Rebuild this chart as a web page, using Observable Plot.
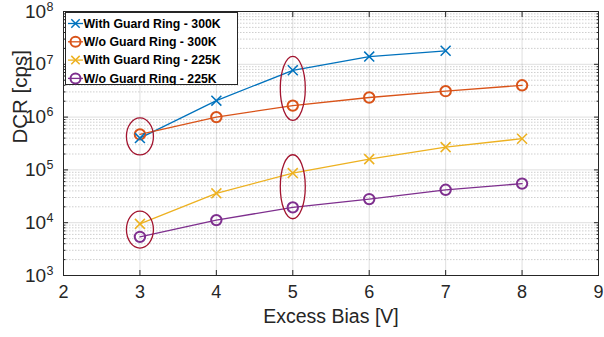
<!DOCTYPE html>
<html>
<head>
<meta charset="utf-8">
<script src="https://cdn.jsdelivr.net/npm/d3@7"></script>
<script src="https://cdn.jsdelivr.net/npm/@observablehq/plot@0.6"></script>
<style>
  html, body { margin: 0; padding: 0; background: #fff; }
  #chart { position: relative; width: 604px; height: 337px; font-family: "Liberation Sans", Arial, sans-serif; }
  #legend { position: absolute; left: 65px; top: 12px; }
</style>
</head>
<body>
<div id="chart"></div>
<script>
// ---- data ----
const seriesNames = ["With Guard Ring - 300K", "W/o Guard Ring - 300K", "With Guard Ring - 225K", "W/o Guard Ring - 225K"];
const seriesColors = ["#0072BD", "#D95319", "#EDB120", "#7E2F8E"];
const seriesSymbols = ["times", "circle", "times", "circle"];
const biasWithGR300 = [3, 4, 5, 6, 7];
const dcrWithGR300 = [4.0e5, 2.05e6, 7.7e6, 1.4e7, 1.8e7];
const biasWoGR300 = [3, 4, 5, 6, 7, 8];
const dcrWoGR300 = [4.7e5, 1.0e6, 1.65e6, 2.35e6, 3.1e6, 4.0e6];
const biasWithGR225 = [3, 4, 5, 6, 7, 8];
const dcrWithGR225 = [9.5e3, 3.6e4, 8.7e4, 1.6e5, 2.7e5, 3.9e5];
const biasWoGR225 = [3, 4, 5, 6, 7, 8];
const dcrWoGR225 = [5.4e3, 1.12e4, 1.95e4, 2.8e4, 4.2e4, 5.5e4];

// annotation ellipses (centres in data units)
const ellipseX = [3, 3, 5, 5];
const ellipseY = [4.3e5, 7.4e3, 3.5e6, 4.8e4];
const ellipseKind = ["short", "short", "tall", "tall"];

const xTicks = [2, 3, 4, 5, 6, 7, 8, 9];
const yTicks = [1e3, 1e4, 1e5, 1e6, 1e7, 1e8];
const yTickBase = "10";
const yTickExponents = ["3", "4", "5", "6", "7", "8"];
const yMinorTicks = [];
for (let d = 3; d < 8; d++) for (let m = 2; m <= 9; m++) yMinorTicks.push(m * Math.pow(10, d));

// ---- build table ----
const xs = [biasWithGR300, biasWoGR300, biasWithGR225, biasWoGR225];
const ys = [dcrWithGR300, dcrWoGR300, dcrWithGR225, dcrWoGR225];
const rows = [];
seriesNames.forEach((name, i) => {
  xs[i].forEach((x, j) => rows.push({series: name, x, y: ys[i][j], sym: seriesSymbols[i]}));
});
const ellipses = ellipseX.map((x, i) => ({x, y: ellipseY[i], kind: ellipseKind[i]}));

function ellipseSymbol(rx, ry) {
  return {
    draw(ctx) {
      const k = 0.5523;
      ctx.moveTo(rx, 0);
      ctx.bezierCurveTo(rx, k * ry, k * rx, ry, 0, ry);
      ctx.bezierCurveTo(-k * rx, ry, -rx, k * ry, -rx, 0);
      ctx.bezierCurveTo(-rx, -k * ry, -k * rx, -ry, 0, -ry);
      ctx.bezierCurveTo(k * rx, -ry, rx, -k * ry, rx, 0);
      ctx.closePath();
    }
  };
}
const shortEllipse = ellipseSymbol(13.5, 18.5);
const tallEllipse = ellipseSymbol(12.5, 32);

const colorOf = s => seriesColors[seriesNames.indexOf(s)];

const plot = Plot.plot({
  width: 604,
  height: 337,
  marginLeft: 63,
  marginRight: 6,
  marginTop: 11,
  marginBottom: 62,
  style: {fontFamily: "'Liberation Sans', Arial, sans-serif", fontSize: "17px", color: "#262626", background: "#fff", overflow: "visible"},
  x: {domain: [2, 9]},
  y: {type: "log", domain: [1e3, 1e8]},
  marks: [
    Plot.gridY(yMinorTicks, {stroke: "#262626", strokeOpacity: 0.22, strokeDasharray: "1.5,1.5"}),
    Plot.gridY(yTicks, {stroke: "#262626", strokeOpacity: 0.15}),
    Plot.gridX(xTicks, {stroke: "#262626", strokeOpacity: 0.15}),
    Plot.axisX({ticks: xTicks, tickSize: -5, tickPadding: 15, tickFormat: d3.format("d"), label: null, fontSize: 18, stroke: "#262626", fill: "#262626"}),
    Plot.axisX({anchor: "top", ticks: xTicks, tickSize: -5, tickFormat: () => "", label: null, stroke: "#262626"}),
    Plot.axisY({ticks: yTicks, tickSize: -5, tickPadding: 15, tickFormat: (d) => yTickBase + "^" + yTickExponents[yTicks.indexOf(d)], label: null, fontSize: 19, fill: "#262626", stroke: "#262626"}),
    Plot.axisY({ticks: yMinorTicks, tickSize: -2.5, tickFormat: () => "", label: null, stroke: "#262626"}),
    Plot.axisY({anchor: "right", ticks: yTicks, tickSize: -5, tickFormat: () => "", label: null, stroke: "#262626"}),
    Plot.axisY({anchor: "right", ticks: yMinorTicks, tickSize: -2.5, tickFormat: () => "", label: null, stroke: "#262626"}),
    Plot.frame({stroke: "#262626", strokeWidth: 1}),
    Plot.line(rows, {x: "x", y: "y", z: "series", stroke: d => colorOf(d.series), strokeWidth: 1.3}),
    Plot.dot(rows.filter(d => d.sym === "circle"), {x: "x", y: "y", r: 5.2, symbol: "circle", stroke: d => colorOf(d.series), strokeWidth: 2, fill: "none"}),
    Plot.dot(rows.filter(d => d.sym === "times"), {x: "x", y: "y", r: 4.6, symbol: "times", stroke: d => colorOf(d.series), strokeWidth: 1.5}),
    Plot.dot(ellipses.filter(d => d.kind === "short"), {x: "x", y: "y", symbol: shortEllipse, stroke: "#A2142F", strokeWidth: 1.3, fill: "none"}),
    Plot.dot(ellipses.filter(d => d.kind === "tall"), {x: "x", y: "y", symbol: tallEllipse, stroke: "#A2142F", strokeWidth: 1.3, fill: "none"}),
    Plot.text(["Excess Bias [V]"], {frameAnchor: "bottom", dy: 47, fontSize: 19.5, fill: "#262626"}),
    Plot.text(["DCR [cps]"], {frameAnchor: "left", rotate: -90, dx: -43, fontSize: 20.5, fill: "#262626"})
  ]
});
document.getElementById("chart").appendChild(plot);

// superscript exponents on the log-axis labels (kept as real text)
d3.select(plot).selectAll("text").each(function () {
  const t = this.textContent;
  const m = /^10\^(\d+)$/.exec(t);
  if (!m) return;
  const sel = d3.select(this);
  sel.text(null);
  sel.append("tspan").text("10");
  sel.append("tspan").attr("font-size", 12.5).attr("dy", "-0.55em").attr("dx", "0.5").text(m[1]);
});

// ---- legend (inside the axes, top-left) ----
const lw = 173, lh = 73;
const leg = d3.select("#chart").append("svg")
  .attr("id", "legend").attr("width", lw).attr("height", lh);
leg.append("rect").attr("x", 0.5).attr("y", 0.5).attr("width", lw - 1).attr("height", lh - 1)
  .attr("fill", "#fff").attr("stroke", "#262626").attr("stroke-width", 1);
seriesNames.forEach((name, i) => {
  const y = 11.5 + i * 18.3;
  const g = leg.append("g").attr("transform", `translate(0,${y})`);
  g.append("line").attr("x1", 3).attr("x2", 18).attr("y1", 0).attr("y2", 0)
    .attr("stroke", seriesColors[i]).attr("stroke-width", 1.3);
  if (seriesSymbols[i] === "circle") {
    g.append("circle").attr("cx", 10.5).attr("cy", 0).attr("r", 5)
      .attr("fill", "none").attr("stroke", seriesColors[i]).attr("stroke-width", 2);
  } else {
    const s = 4.2;
    g.append("path").attr("d", `M${10.5 - s},${-s}L${10.5 + s},${s}M${10.5 - s},${s}L${10.5 + s},${-s}`)
      .attr("stroke", seriesColors[i]).attr("stroke-width", 1.5);
  }
  g.append("text").attr("x", 18.5).attr("y", 0).attr("dy", "0.35em")
    .attr("font-family", "'Liberation Sans', Arial, sans-serif").attr("font-size", 12.3)
    .attr("font-weight", "bold").attr("fill", "#000").text(name);
});
</script>
</body>
</html>
